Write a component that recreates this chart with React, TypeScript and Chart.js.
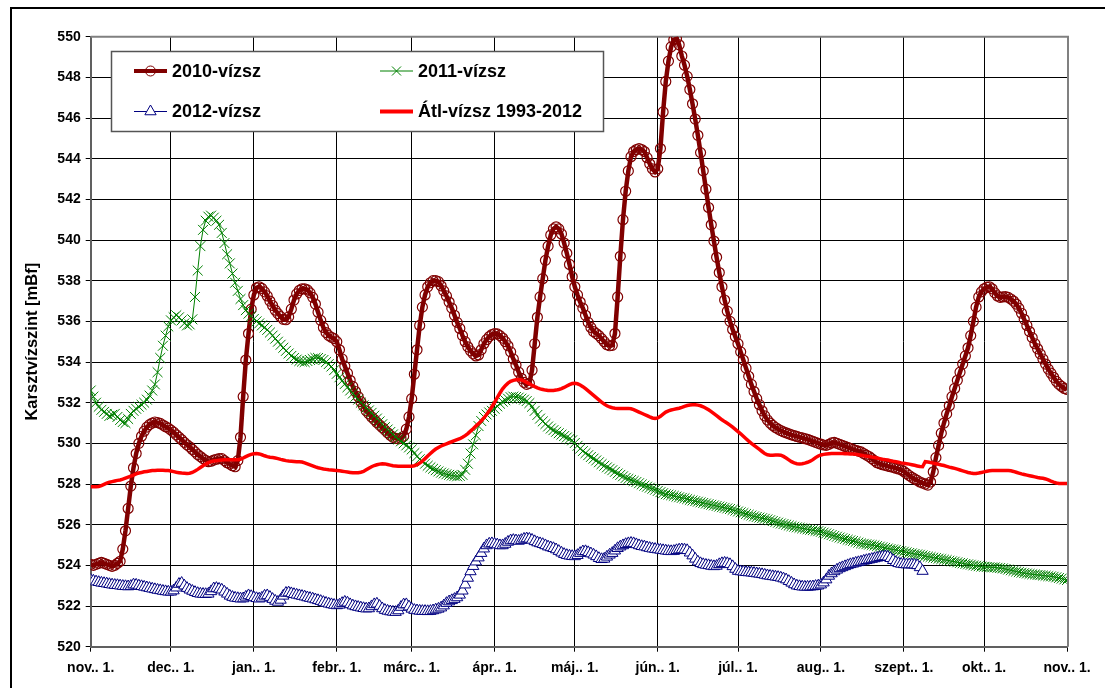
import React, { useEffect, useRef } from 'react';
import { Chart, registerables } from 'chart.js';

Chart.register(...registerables);

// Day offsets of the month ticks (Nov 1 .. Nov 1) and their labels
const MONTH_TICK_DAYS = [0, 30, 61, 92, 120, 151, 181, 212, 242, 273, 304, 334, 365];
const MONTH_LABELS = ['nov.. 1.', 'dec.. 1.', 'jan.. 1.', 'febr.. 1.', 'márc.. 1.', 'ápr.. 1.', 'máj.. 1.', 'jún.. 1.', 'júl.. 1.', 'aug.. 1.', 'szept.. 1.', 'okt.. 1.', 'nov.. 1.'];

const Y_MIN = 520;
const Y_MAX = 550;
const Y_STEP = 2;

const LEGEND_LABELS = ['2010-vízsz', '2011-vízsz', '2012-vízsz', 'Átl-vízsz 1993-2012'];
const Y_TITLE = 'Karsztvízszint [mBf]';

// daily values, index = day since Nov 1
const S2010 = [
  524.05, 524.0, 524.05, 524.1, 524.15, 524.1, 524.05, 524.0, 523.95, 524.0, 524.1,
  524.2, 524.8, 525.7, 526.8, 527.9, 528.8, 529.5, 530.0, 530.35, 530.6,
  530.8, 530.92, 531.0, 531.05, 531.02, 530.98, 530.9, 530.82, 530.75, 530.65,
  530.55, 530.42, 530.3, 530.18, 530.05, 529.93, 529.83, 529.7, 529.58, 529.45,
  529.35, 529.25, 529.17, 529.1, 529.12, 529.18, 529.22, 529.25, 529.25, 529.15,
  529.05, 528.98, 528.9, 528.85, 529.15, 530.3, 532.3, 534.1, 535.4, 536.6,
  537.3, 537.65, 537.7, 537.62, 537.45, 537.25, 537.0, 536.78, 536.55, 536.38,
  536.23, 536.1, 536.08, 536.22, 536.6, 537.05, 537.35, 537.52, 537.6, 537.6,
  537.55, 537.4, 537.18, 536.85, 536.45, 536.05, 535.7, 535.45, 535.3, 535.22,
  535.15, 535.0, 534.6, 534.15, 533.8, 533.45, 533.1, 532.8, 532.55, 532.3,
  532.05, 531.83, 531.6, 531.45, 531.3, 531.17, 531.03, 530.9, 530.78, 530.65,
  530.52, 530.4, 530.3, 530.25, 530.22, 530.25, 530.35, 530.7, 531.3, 532.2,
  533.4, 534.6, 535.8, 536.7, 537.3, 537.7, 537.9, 538.0, 538.0, 537.95,
  537.75, 537.5, 537.25, 536.95, 536.65, 536.3, 535.95, 535.65, 535.3, 535.0,
  534.75, 534.55, 534.4, 534.3, 534.35, 534.6, 534.9, 535.1, 535.25, 535.35,
  535.4, 535.38, 535.3, 535.18, 535.0, 534.8, 534.5, 534.15, 533.85, 533.5,
  533.2, 533.0, 532.9, 532.95, 533.6, 534.9, 536.2, 537.2, 538.1, 539.0,
  539.7, 540.25, 540.55, 540.65, 540.55, 540.3, 539.85, 539.35, 538.8, 538.2,
  537.7, 537.3, 536.95, 536.65, 536.3, 535.95, 535.7, 535.5, 535.4, 535.3,
  535.15, 535.0, 534.85, 534.8, 534.82, 535.4, 537.2, 539.2, 541.0, 542.4,
  543.4, 544.1, 544.35, 544.45, 544.5, 544.45, 544.35, 544.05, 543.75, 543.5,
  543.35, 543.5, 544.5, 546.3, 547.8, 548.8, 549.5, 549.85, 549.9, 549.6,
  549.05, 548.6, 548.05, 547.4, 546.7, 545.95, 545.15, 544.3, 543.4, 542.5,
  541.6, 540.75, 539.95, 539.15, 538.4, 537.7, 537.05, 536.5, 536.0, 535.6,
  535.25, 534.9, 534.5, 534.1, 533.7, 533.3, 532.9, 532.55, 532.2, 531.9,
  531.6, 531.35, 531.15, 531.0, 530.88, 530.78, 530.7, 530.63, 530.57, 530.52,
  530.47, 530.42, 530.38, 530.34, 530.3, 530.27, 530.23, 530.2, 530.15, 530.1,
  530.05, 530.0, 529.96, 529.92, 529.9, 529.95, 530.02, 530.05, 530.0, 529.95,
  529.9, 529.85, 529.8, 529.75, 529.7, 529.66, 529.62, 529.58, 529.5, 529.42,
  529.35, 529.25, 529.15, 529.05, 529.0, 528.95, 528.92, 528.88, 528.85, 528.82,
  528.78, 528.74, 528.7, 528.62, 528.52, 528.42, 528.33, 528.25, 528.18, 528.1,
  528.05, 528.0, 527.95, 528.1, 528.6, 529.3, 529.9, 530.5, 531.0, 531.45,
  531.85, 532.3, 532.7, 533.1, 533.5, 533.9, 534.3, 534.7, 535.3, 536.0,
  536.7, 537.2, 537.45, 537.6, 537.68, 537.7, 537.6, 537.4, 537.25, 537.18,
  537.2, 537.22, 537.18, 537.1, 537.0, 536.85, 536.65, 536.4, 536.1, 535.8,
  535.5, 535.2, 534.9, 534.65, 534.4, 534.15, 533.9, 533.65, 533.45, 533.25,
  533.05, 532.9, 532.8, 532.7, 532.65,
];

const S2011 = [
  532.6, 532.3, 532.0, 531.8, 531.65, 531.55, 531.45, 531.35, 531.4, 531.45, 531.3,
  531.15, 531.05, 531.0, 531.2, 531.45, 531.6, 531.7, 531.8, 531.9, 532.0,
  532.15, 532.35, 532.6, 532.9, 533.5, 534.2, 534.8, 535.3, 535.75, 536.05,
  536.2, 536.3, 536.2, 536.05, 535.9, 535.8, 535.85, 536.1, 537.2, 538.5,
  539.7, 540.5, 540.95, 541.15, 541.2, 541.1, 540.95, 540.75, 540.35, 539.85,
  539.3, 538.85, 538.35, 537.9, 537.5, 537.1, 536.8, 536.55, 536.38, 536.25,
  536.12, 536.0, 535.9, 535.8, 535.7, 535.58, 535.45, 535.3, 535.15, 535.0,
  534.85, 534.7, 534.55, 534.42, 534.3, 534.2, 534.12, 534.05, 534.02, 534.0,
  534.05, 534.1, 534.15, 534.2, 534.2, 534.15, 534.1, 534.0, 533.9, 533.78,
  533.6, 533.42, 533.25, 533.08, 532.92, 532.76, 532.6, 532.45, 532.3, 532.15,
  532.0, 531.87, 531.75, 531.62, 531.5, 531.36, 531.22, 531.08, 530.94, 530.8,
  530.68, 530.56, 530.44, 530.32, 530.2, 530.1, 530.0, 529.9, 529.8, 529.7,
  529.52, 529.36, 529.22, 529.1, 529.0, 528.9, 528.82, 528.75, 528.68, 528.62,
  528.56, 528.52, 528.48, 528.45, 528.42, 528.4, 528.38, 528.4, 528.45, 528.7,
  529.0, 529.5, 529.95, 530.4, 530.85, 531.1, 531.3, 531.42, 531.52, 531.6,
  531.7, 531.82, 531.95, 532.05, 532.12, 532.2, 532.27, 532.3, 532.28, 532.25,
  532.2, 532.15, 532.08, 531.98, 531.8, 531.6, 531.4, 531.22, 531.08, 530.95,
  530.83, 530.73, 530.65, 530.57, 530.5, 530.43, 530.36, 530.29, 530.22, 530.15,
  530.02, 529.88, 529.74, 529.62, 529.52, 529.42, 529.33, 529.25, 529.16, 529.07,
  528.98, 528.9, 528.82, 528.75, 528.68, 528.6, 528.52, 528.45, 528.38, 528.3,
  528.25, 528.2, 528.15, 528.1, 528.04, 527.98, 527.92, 527.87, 527.82, 527.77,
  527.72, 527.66, 527.6, 527.55, 527.5, 527.48, 527.45, 527.42, 527.38, 527.35,
  527.32, 527.3, 527.26, 527.22, 527.19, 527.16, 527.13, 527.1, 527.07, 527.04,
  527.01, 526.98, 526.95, 526.92, 526.89, 526.86, 526.83, 526.8, 526.77, 526.73,
  526.69, 526.65, 526.61, 526.57, 526.53, 526.49, 526.45, 526.41, 526.38, 526.35,
  526.32, 526.29, 526.26, 526.22, 526.18, 526.14, 526.1, 526.06, 526.03, 526.0,
  525.96, 525.93, 525.9, 525.87, 525.85, 525.82, 525.8, 525.77, 525.75, 525.73,
  525.7, 525.68, 525.65, 525.61, 525.57, 525.53, 525.49, 525.45, 525.41, 525.37,
  525.33, 525.3, 525.26, 525.23, 525.2, 525.16, 525.12, 525.08, 525.06, 525.04,
  525.02, 525.0, 524.98, 524.95, 524.92, 524.89, 524.86, 524.83, 524.8, 524.78,
  524.76, 524.73, 524.7, 524.67, 524.64, 524.61, 524.59, 524.56, 524.54, 524.52,
  524.49, 524.46, 524.43, 524.41, 524.38, 524.36, 524.33, 524.31, 524.28, 524.26,
  524.23, 524.2, 524.18, 524.15, 524.12, 524.1, 524.07, 524.05, 524.03, 524.0,
  523.98, 523.96, 523.94, 523.93, 523.92, 523.91, 523.9, 523.9, 523.88, 523.87,
  523.85, 523.82, 523.79, 523.76, 523.73, 523.7, 523.67, 523.64, 523.62, 523.6,
  523.58, 523.56, 523.55, 523.53, 523.52, 523.5, 523.49, 523.47, 523.46, 523.44,
  523.41, 523.38, 523.35, 523.31, 523.28,
];

const S2012 = [
  523.28, 523.24, 523.2, 523.17, 523.14, 523.12, 523.1, 523.07, 523.05, 523.03, 523.02,
  523.0, 522.98, 522.97, 522.96, 522.98, 523.05, 523.04, 523.0, 522.97, 522.94,
  522.91, 522.88, 522.85, 522.82, 522.79, 522.77, 522.74, 522.72, 522.7, 522.7,
  522.76, 522.9, 523.08, 523.13, 523.0, 522.88, 522.8, 522.74, 522.68, 522.63,
  522.6, 522.59, 522.58, 522.6, 522.72, 522.86, 522.88, 522.84, 522.8, 522.7,
  522.6, 522.5, 522.44, 522.4, 522.38, 522.36, 522.37, 522.45, 522.52, 522.48,
  522.42, 522.38, 522.36, 522.4, 522.5, 522.52, 522.44, 522.34, 522.25, 522.2,
  522.3, 522.5, 522.64, 522.66, 522.62, 522.58, 522.55, 522.52, 522.49, 522.46,
  522.42, 522.39, 522.36, 522.32, 522.28, 522.24, 522.19, 522.15, 522.11, 522.08,
  522.05, 522.03, 522.06, 522.14, 522.2, 522.16, 522.08, 522.02, 521.98, 521.95,
  521.92, 521.89, 521.87, 521.88, 521.98, 522.08, 522.11, 522.0, 521.88, 521.8,
  521.76, 521.73, 521.71, 521.7, 521.78, 521.95, 522.07, 522.08, 521.97, 521.86,
  521.8, 521.78, 521.76, 521.75, 521.75, 521.74, 521.75, 521.78, 521.82, 521.86,
  521.92, 522.02, 522.14, 522.22, 522.28, 522.34, 522.42, 522.55, 522.75, 523.05,
  523.38, 523.7, 523.96, 524.18, 524.38, 524.6, 524.82, 524.98, 525.06, 525.08,
  525.05, 525.02, 524.98, 524.98, 525.05, 525.15, 525.22, 525.24, 525.22, 525.2,
  525.24, 525.3, 525.32, 525.3, 525.25, 525.18, 525.12, 525.08, 525.04, 524.98,
  524.92, 524.88, 524.84, 524.78, 524.7, 524.62, 524.55, 524.5, 524.47, 524.45,
  524.44, 524.5, 524.6, 524.68, 524.69, 524.64, 524.58, 524.52, 524.44, 524.35,
  524.3, 524.32, 524.42, 524.52, 524.6, 524.72, 524.84, 524.92, 524.98, 525.04,
  525.08, 525.1, 525.08, 525.03, 524.98, 524.94, 524.92, 524.88, 524.85, 524.82,
  524.8, 524.78, 524.76, 524.74, 524.72, 524.7, 524.69, 524.7, 524.74, 524.77,
  524.78, 524.77, 524.74, 524.62, 524.48, 524.32, 524.18, 524.1, 524.05, 524.02,
  524.0, 523.97, 523.95, 523.97, 524.05, 524.1, 524.12, 524.1, 524.05, 523.95,
  523.82, 523.72, 523.7, 523.68, 523.66, 523.65, 523.64, 523.62, 523.6, 523.58,
  523.56, 523.53, 523.5, 523.48, 523.46, 523.44, 523.42, 523.39, 523.35, 523.3,
  523.22, 523.14, 523.06, 523.0, 522.97, 522.95, 522.94, 522.94, 522.95, 522.96,
  522.98, 523.0, 523.05, 523.15, 523.3, 523.48, 523.6, 523.7, 523.78, 523.85,
  523.9, 523.95, 524.0, 524.05, 524.08, 524.12, 524.15, 524.18, 524.22, 524.25,
  524.28, 524.31, 524.34, 524.37, 524.4, 524.43, 524.44, 524.42, 524.35, 524.25,
  524.15, 524.1, 524.07, 524.05, 524.04, 524.04, 524.04, 524.03, 524.0, 523.9, 523.72,
];

const SAVG = [
  527.87, 527.87, 527.87, 527.88, 527.92, 527.98, 528.04, 528.09, 528.12, 528.15, 528.18,
  528.2, 528.24, 528.29, 528.34, 528.39, 528.44, 528.5, 528.54, 528.57, 528.6,
  528.62, 528.64, 528.66, 528.67, 528.68, 528.68, 528.68, 528.67, 528.66, 528.64,
  528.61, 528.58, 528.56, 528.54, 528.53, 528.52, 528.53, 528.57, 528.64, 528.72,
  528.81, 528.9, 528.98, 529.05, 529.1, 529.13, 529.15, 529.17, 529.18, 529.19,
  529.2, 529.2, 529.2, 529.2, 529.2, 529.22, 529.28, 529.35, 529.41, 529.46,
  529.49, 529.5, 529.48, 529.44, 529.39, 529.35, 529.32, 529.3, 529.28, 529.25,
  529.21, 529.18, 529.15, 529.13, 529.12, 529.11, 529.1, 529.1, 529.08, 529.04,
  528.99, 528.94, 528.89, 528.84, 528.8, 528.77, 528.74, 528.72, 528.7, 528.69,
  528.68, 528.66, 528.65, 528.63, 528.61, 528.59, 528.57, 528.55, 528.55, 528.56,
  528.58, 528.62, 528.7, 528.78, 528.85, 528.91, 528.95, 528.98, 529.0, 528.99,
  528.96, 528.93, 528.9, 528.89, 528.88, 528.87, 528.87, 528.87, 528.87, 528.88,
  528.9, 528.95, 529.03, 529.13, 529.25, 529.38, 529.5, 529.62, 529.72, 529.8,
  529.87, 529.93, 529.98, 530.03, 530.08, 530.13, 530.18, 530.23, 530.3, 530.38,
  530.48, 530.6, 530.72, 530.85, 530.97, 531.1, 531.25, 531.42, 531.6, 531.8,
  532.02, 532.25, 532.48, 532.68, 532.84, 532.96, 533.05, 533.1, 533.13, 533.14,
  533.12, 533.07, 533.0, 532.93, 532.86, 532.79, 532.73, 532.68, 532.65, 532.62,
  532.6, 532.6, 532.6, 532.62, 532.65, 532.69, 532.75, 532.82, 532.89, 532.94,
  532.95, 532.93, 532.87, 532.79, 532.69, 532.58, 532.47, 532.36, 532.25, 532.14,
  532.03, 531.93, 531.85, 531.79, 531.75, 531.73, 531.72, 531.72, 531.72, 531.72,
  531.72, 531.7, 531.66, 531.6, 531.54, 531.48, 531.42, 531.36, 531.3, 531.25,
  531.22, 531.25, 531.33, 531.44, 531.54, 531.6, 531.64, 531.67, 531.7, 531.73,
  531.77, 531.82, 531.86, 531.89, 531.9, 531.9, 531.88, 531.85, 531.8, 531.73,
  531.65, 531.56, 531.46, 531.36, 531.26, 531.16, 531.07, 530.99, 530.9, 530.8,
  530.69, 530.58, 530.47, 530.35, 530.23, 530.11, 530.0, 529.9, 529.8, 529.7,
  529.6, 529.5, 529.44, 529.42, 529.42, 529.43, 529.43, 529.42, 529.36, 529.28,
  529.19, 529.1, 529.04, 529.0, 528.99, 529.0, 529.03, 529.07, 529.12, 529.2,
  529.3, 529.38, 529.43, 529.46, 529.48, 529.49, 529.5, 529.5, 529.5, 529.5,
  529.5, 529.49, 529.49, 529.48, 529.48, 529.46, 529.44, 529.42, 529.39, 529.37,
  529.35, 529.33, 529.3, 529.28, 529.25, 529.22, 529.2, 529.18, 529.15, 529.12,
  529.1, 529.07, 529.04, 529.02, 529.0, 528.98, 528.95, 528.92, 528.89, 528.86,
  528.85, 529.1, 529.08, 529.06, 529.03, 529.0, 528.97, 528.94, 528.91, 528.87,
  528.83, 528.8, 528.77, 528.73, 528.69, 528.65, 528.61, 528.57, 528.54, 528.52,
  528.52, 528.54, 528.57, 528.6, 528.63, 528.65, 528.66, 528.66, 528.66, 528.66,
  528.66, 528.66, 528.66, 528.65, 528.62, 528.58, 528.54, 528.5, 528.47, 528.44,
  528.41, 528.38, 528.35, 528.32, 528.3, 528.28, 528.25, 528.2, 528.14, 528.09,
  528.05, 528.03, 528.03, 528.03, 528.03,
];

const FONT = "'Liberation Sans', Arial, Helvetica, sans-serif";
const C2010 = '#800000';
const C2011 = '#008000';
const C2012 = '#000080';
const CAVG = '#FF0000';

const toXY = (arr: number[]) => arr.map((y, i) => ({ x: i, y }));

function drawMarker(ctx: CanvasRenderingContext2D, kind: string, x: number, y: number, color: string) {
  ctx.save();
  ctx.strokeStyle = color;
  ctx.lineWidth = 1;
  ctx.beginPath();
  if (kind === 'circle') {
    ctx.arc(x, y, 5, 0, Math.PI * 2);
    ctx.stroke();
  } else if (kind === 'cross') {
    const d = 4.5;
    ctx.moveTo(x - d, y - d); ctx.lineTo(x + d, y + d);
    ctx.moveTo(x - d, y + d); ctx.lineTo(x + d, y - d);
    ctx.stroke();
  } else if (kind === 'triangle') {
    const r = 6.5;
    ctx.moveTo(x, y - r);
    ctx.lineTo(x + r * 0.866, y + r * 0.5);
    ctx.lineTo(x - r * 0.866, y + r * 0.5);
    ctx.closePath();
    ctx.fillStyle = '#fff';
    ctx.fill();
    ctx.stroke();
  }
  ctx.restore();
}

const framePlugin = {
  id: 'frameAndLegend',
  beforeDraw(chart: any) {
    const ctx = chart.ctx;
    ctx.save();
    ctx.fillStyle = '#fff';
    ctx.fillRect(0, 0, chart.width, chart.height);
    ctx.restore();
  },
  beforeDatasetsDraw(chart: any) {
    const { ctx, chartArea } = chart;
    ctx.save();
    ctx.strokeStyle = '#808080';
    ctx.lineWidth = 2;
    ctx.beginPath();
    ctx.moveTo(chartArea.left, chartArea.top);
    ctx.lineTo(chartArea.right + 1, chartArea.top);
    ctx.lineTo(chartArea.right + 1, chartArea.bottom);
    ctx.stroke();
    ctx.restore();
  },
  afterDraw(chart: any) {
    const ctx = chart.ctx as CanvasRenderingContext2D;
    ctx.save();
    // outer frame (top and left)
    ctx.fillStyle = '#000';
    ctx.fillRect(10, 7, chart.width - 10, 2);
    ctx.fillRect(10, 7, 2, chart.height - 7);

    // legend box
    const bx = 111, by = 51, bw = 492, bh = 80;
    ctx.fillStyle = '#fff';
    ctx.fillRect(bx, by, bw, bh);
    ctx.strokeStyle = '#555';
    ctx.lineWidth = 1.5;
    ctx.strokeRect(bx + 0.5, by + 0.5, bw, bh);

    const items = [
      { label: LEGEND_LABELS[0], color: C2010, lw: 4, marker: 'circle', col: 0, row: 0 },
      { label: LEGEND_LABELS[1], color: C2011, lw: 1, marker: 'cross', col: 1, row: 0 },
      { label: LEGEND_LABELS[2], color: C2012, lw: 1, marker: 'triangle', col: 0, row: 1 },
      { label: LEGEND_LABELS[3], color: CAVG, lw: 4, marker: '', col: 1, row: 1 },
    ];
    const colX = [134, 380];
    const rowY = [71, 111.5];
    ctx.font = `bold 18px ${FONT}`;
    ctx.textBaseline = 'middle';
    ctx.textAlign = 'left';
    for (const it of items) {
      const x0 = colX[it.col];
      const y0 = rowY[it.row];
      ctx.strokeStyle = it.color;
      ctx.lineWidth = it.lw;
      ctx.beginPath();
      ctx.moveTo(x0, y0);
      ctx.lineTo(x0 + 33, y0);
      ctx.stroke();
      if (it.marker) drawMarker(ctx, it.marker, x0 + 16.5, y0, it.color);
      ctx.fillStyle = '#000';
      ctx.fillText(it.label, x0 + 38, y0 + 1);
    }
    ctx.restore();
  },
};

export default function App() {
  const ref = useRef<HTMLCanvasElement>(null);
  useEffect(() => {
    const canvas = ref.current;
    if (!canvas) return;
    const chart = new Chart(canvas, {
      type: 'line',
      data: {
        datasets: [
          {
            label: LEGEND_LABELS[0],
            data: toXY(S2010),
            borderColor: C2010,
            borderWidth: 4.5,
            pointStyle: 'circle',
            pointRadius: 5,
            pointBorderWidth: 1.2,
            pointBorderColor: C2010,
            pointBackgroundColor: 'rgba(0,0,0,0)',
            tension: 0,
            order: 4,
          },
          {
            label: LEGEND_LABELS[1],
            data: toXY(S2011),
            borderColor: C2011,
            borderWidth: 1,
            pointStyle: 'crossRot',
            pointRadius: 7,
            pointBorderWidth: 1,
            pointBorderColor: C2011,
            tension: 0,
            order: 3,
          },
          {
            label: LEGEND_LABELS[2],
            data: toXY(S2012),
            borderColor: C2012,
            borderWidth: 1,
            pointStyle: 'triangle',
            pointRadius: 6.5,
            pointBorderWidth: 1,
            pointBorderColor: C2012,
            pointBackgroundColor: '#fff',
            tension: 0,
            order: 2,
          },
          {
            label: LEGEND_LABELS[3],
            data: toXY(SAVG),
            borderColor: CAVG,
            borderWidth: 3.5,
            pointRadius: 0,
            tension: 0,
            order: 1,
          },
        ],
      },
      options: {
        animation: false,
        responsive: false,
        devicePixelRatio: 1,
        events: [],
        layout: { padding: { left: 0, right: 38, top: 36.7, bottom: 0 } },
        plugins: {
          legend: { display: false },
          tooltip: { enabled: false },
          title: { display: false },
        },
        scales: {
          x: {
            type: 'linear',
            min: 0,
            max: 365,
            afterBuildTicks: (scale: any) => {
              scale.ticks = MONTH_TICK_DAYS.map((v) => ({ value: v }));
            },
            afterFit: (scale: any) => {
              scale.height = 41.3;
            },
            ticks: {
              autoSkip: false,
              maxRotation: 0,
              minRotation: 0,
              padding: 8,
              color: '#000',
              font: { family: FONT, size: 14, weight: 'bold' },
              callback: (_v: any, i: number) => MONTH_LABELS[i],
            },
            grid: { color: '#000', lineWidth: 1, tickLength: 5, drawTicks: true },
            border: { color: '#606060', width: 2 },
          },
          y: {
            type: 'linear',
            min: Y_MIN,
            max: Y_MAX,
            afterFit: (scale: any) => {
              scale.width = 90.7;
            },
            ticks: {
              stepSize: Y_STEP,
              autoSkip: false,
              padding: 5,
              color: '#000',
              font: { family: FONT, size: 14, weight: 'bold' },
            },
            grid: { color: '#000', lineWidth: 1, tickLength: 5, drawTicks: true },
            border: { color: '#606060', width: 2 },
            title: {
              display: true,
              text: Y_TITLE,
              color: '#000',
              font: { family: FONT, size: 16.5, weight: 'bold' },
              padding: { top: 23, bottom: 0 },
            },
          },
        },
      },
      plugins: [framePlugin],
    } as any);
    return () => chart.destroy();
  }, []);

  return (
    <div style={{ position: 'fixed', left: 0, top: 0, width: 1105, height: 688, background: '#fff', overflow: 'hidden' }}>
      <canvas ref={ref} width={1105} height={688} style={{ display: 'block', width: 1105, height: 688 }} />
    </div>
  );
}
